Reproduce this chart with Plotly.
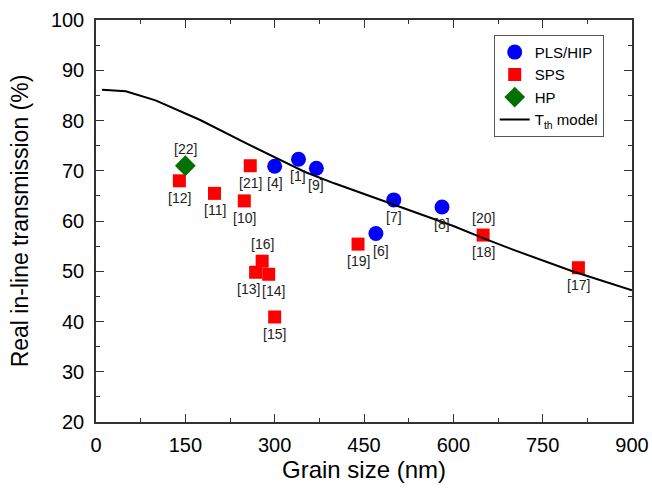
import plotly.graph_objects as go

# Data
pls_x = [300, 340, 370, 470, 500, 581]
pls_y = [70.9, 72.3, 70.5, 57.5, 64.2, 62.8]

sps_x = [140, 199, 249, 259, 279, 268, 290, 300, 440, 650, 810]
sps_y = [68.0, 65.5, 64.0, 71.0, 52.0, 49.8, 49.4, 40.9, 55.4, 57.2, 50.7]

hp_x = [150]
hp_y = [71.0]

model_x = [10, 50, 100, 175, 250, 350, 400, 500, 600, 650, 700, 800, 900]
model_y = [86.1, 85.8, 84.0, 80.1, 75.6, 69.8, 67.5, 63.2, 59.0, 56.6, 54.3, 50.0, 46.2]

# reference labels next to points
lbl_x = [150, 140, 199, 249, 259, 300, 340, 370, 279, 268, 290, 300, 440, 470, 500, 581, 650, 650, 810]
lbl_y = [71.0, 68.0, 65.5, 64.0, 71.0, 70.9, 72.3, 70.5, 52.0, 49.8, 49.4, 40.9, 55.4, 57.5, 64.2, 62.8, 57.2, 57.2, 50.7]
lbl_t = ["[22]", "[12]", "[11]", "[10]", "[21]", "[4]", "[1]", "[9]", "[16]", "[13]", "[14]", "[15]",
         "[19]", "[6]", "[7]", "[8]", "[20]", "[18]", "[17]"]
lbl_pos = ["above", "below", "below", "below", "below", "below", "below", "below", "above", "belowleft",
           "belowright", "below", "below", "belowright", "below", "below", "above", "below", "below"]

FONT = "Liberation Sans, Arial, sans-serif"

fig = go.Figure()
fig.add_trace(go.Scatter(x=pls_x, y=pls_y, mode="markers", name="PLS/HIP",
                         marker=dict(symbol="circle", size=15, color="#0000ff")))
fig.add_trace(go.Scatter(x=sps_x, y=sps_y, mode="markers", name="SPS",
                         marker=dict(symbol="square", size=13, color="#ff0000")))
fig.add_trace(go.Scatter(x=hp_x, y=hp_y, mode="markers", name="HP",
                         marker=dict(symbol="diamond", size=16, color="#007000")))
fig.add_trace(go.Scatter(x=model_x, y=model_y, mode="lines", name="T<sub>th</sub> model",
                         line=dict(color="black", width=2)))

for x, y, t, p in zip(lbl_x, lbl_y, lbl_t, lbl_pos):
    ys = 17 if p == "above" else -17
    xs = 0
    if p == "belowleft":
        xs = -7
    elif p == "belowright":
        xs = 5
    fig.add_annotation(x=x, y=y, text=t, showarrow=False, xshift=xs, yshift=ys,
                       font=dict(size=14, color="#222", family=FONT))

axis_common = dict(showline=True, linecolor="#333", linewidth=1.5, mirror="ticks",
                   ticks="inside", ticklen=8, tickwidth=1.2, tickcolor="#333",
                   showgrid=False, zeroline=False, automargin=False,
                   tickfont=dict(size=20, color="black", family=FONT))

fig.update_xaxes(range=[0, 900], tickvals=[0, 150, 300, 450, 600, 750, 900],
                 minor=dict(tickvals=[75, 225, 375, 525, 675, 825], ticks="inside", ticklen=4,
                            tickcolor="#333", tickwidth=1.2),
                 ticklabelstandoff=4,
                 title=dict(text="Grain size (nm)", font=dict(size=24, color="black", family=FONT), standoff=0),
                 **axis_common)
fig.update_yaxes(range=[20, 100], tickvals=[20, 30, 40, 50, 60, 70, 80, 90, 100],
                 minor=dict(tickvals=[25, 35, 45, 55, 65, 75, 85, 95], ticks="inside", ticklen=4,
                            tickcolor="#333", tickwidth=1.2),
                 ticklabelstandoff=6,
                 title=dict(text="Real in-line transmission (%)", font=dict(size=23, color="black", family=FONT), standoff=16),
                 **axis_common)

fig.update_layout(
    width=652, height=490,
    margin=dict(l=96, r=20, t=20, b=68, autoexpand=False),
    paper_bgcolor="white", plot_bgcolor="white",
    font=dict(family=FONT, color="black"),
    showlegend=True,
    legend=dict(x=0.742, y=0.963, xanchor="left", yanchor="top",
                bordercolor="#555", borderwidth=1, bgcolor="white",
                font=dict(size=15, color="black", family=FONT), itemwidth=30, tracegroupgap=0),
)

fig.write_html("out.html", config={"displayModeBar": False},
               post_script="document.body.style.margin='0px';")
